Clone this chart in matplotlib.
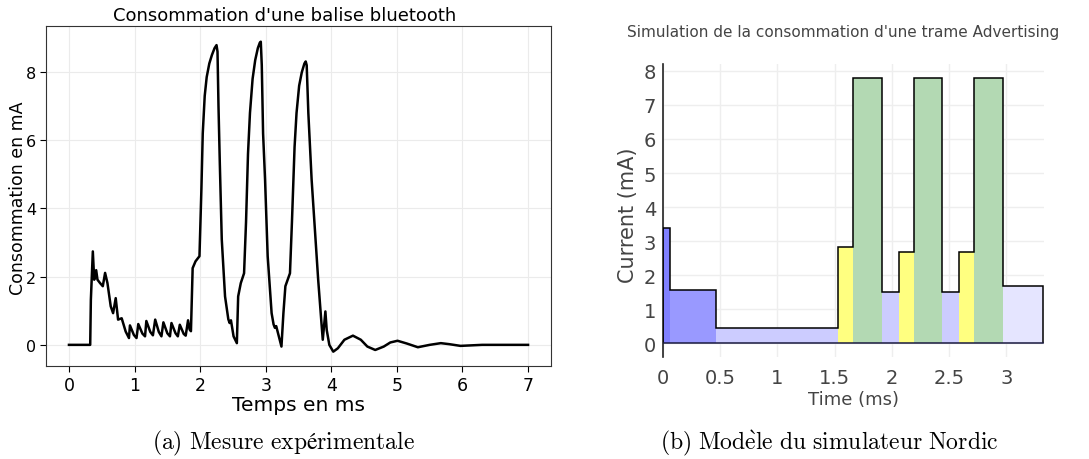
import matplotlib
matplotlib.use("Agg")
import matplotlib.pyplot as plt
import numpy as np

# ---- Left: measured consumption (time in ms, current in mA) ----
t_meas = [0.0, 0.324, 0.334, 0.364, 0.385, 0.415, 0.435, 0.475, 0.516, 0.551, 0.587,
          0.637, 0.673, 0.713, 0.749, 0.804, 0.865, 0.915, 0.93, 0.99, 1.03, 1.057,
          1.12, 1.16, 1.18, 1.24, 1.28, 1.315, 1.37, 1.41, 1.44, 1.50, 1.54, 1.563,
          1.625, 1.66, 1.69, 1.75, 1.78, 1.816, 1.84, 1.86, 1.886, 1.93, 1.99,
          2.02, 2.04, 2.07, 2.10, 2.14, 2.18, 2.22, 2.25, 2.265, 2.28, 2.30, 2.33,
          2.38, 2.43, 2.45, 2.47, 2.51, 2.56, 2.58, 2.62, 2.67, 2.70, 2.73, 2.76,
          2.80, 2.84, 2.88, 2.91, 2.925, 2.94, 2.96, 2.99, 3.03, 3.09, 3.12, 3.14,
          3.16, 3.24, 3.27, 3.30, 3.37, 3.40, 3.44, 3.47, 3.51, 3.55, 3.59, 3.61,
          3.625, 3.65, 3.70, 3.75, 3.80, 3.85, 3.87, 3.91, 3.93, 3.97, 4.03, 4.10,
          4.20, 4.33, 4.45, 4.55, 4.67, 4.80, 4.90, 5.01, 5.15, 5.32, 5.50, 5.67,
          5.80, 5.97, 6.30, 6.60, 7.0]
i_meas = [0.0, 0.0, 1.32, 2.74, 1.91, 2.19, 1.91, 1.81, 1.72, 2.11, 1.81,
          1.13, 0.93, 1.37, 0.74, 0.78, 0.39, 0.2, 0.57, 0.29, 0.2, 0.61,
          0.33, 0.25, 0.70, 0.38, 0.28, 0.74, 0.38, 0.25, 0.66, 0.34, 0.25, 0.64,
          0.34, 0.25, 0.59, 0.32, 0.27, 0.72, 0.45, 0.40, 2.25, 2.45, 2.6,
          4.6, 6.2, 7.3, 7.85, 8.25, 8.5, 8.7, 8.79, 8.6, 7.0, 5.34, 3.09,
          1.42, 0.75, 0.64, 0.72, 0.25, 0.05, 1.42, 1.81, 2.1, 3.6, 5.6, 6.8,
          7.8, 8.35, 8.7, 8.86, 8.89, 8.2, 6.2, 4.85, 2.6, 0.93, 0.6, 0.5,
          0.55, -0.05, 0.93, 1.72, 2.1, 3.6, 5.8, 6.8, 7.6, 7.99, 8.25, 8.31,
          8.2, 6.8, 4.85, 3.38, 1.91, 0.64, 0.15, 0.98, 0.44, 0.0, -0.2, -0.1,
          0.15, 0.27, 0.15, -0.05, -0.15, -0.05, 0.07, 0.12, 0.04, -0.07, 0.0, 0.05,
          0.02, -0.03, 0.0, 0.0, 0.0]

# ---- Right: Nordic simulator model ----
seg_edges = [0.0, 0.06, 0.46, 1.53, 1.66, 1.91, 2.06, 2.19, 2.44, 2.59, 2.72, 2.97, 3.32]
seg_current = [3.39, 1.56, 0.44, 2.84, 7.79, 1.50, 2.68, 7.79, 1.50, 2.68, 7.79, 1.69]
seg_colors = ['#8080ff', '#9999ff', '#ccccff', '#ffff80', '#b3d9b3', '#ccccff',
              '#ffff80', '#b3d9b3', '#ccccff', '#ffff80', '#b3d9b3', '#e5e5ff']
x_ticks_r = [0, 0.5, 1, 1.5, 2, 2.5, 3]
x_ticklabels_r = ['0', '0.5', '1', '1.5', '2', '2.5', '3']
y_ticks_r = [0, 1, 2, 3, 4, 5, 6, 7, 8]

W, H = 1089, 460
plt.rcParams['mathtext.fontset'] = 'cm'
fig = plt.figure(figsize=(W / 100, H / 100), dpi=100)

# Left axes
axL = fig.add_axes([46 / W, (H - 367) / H, (551 - 46) / W, (367 - 27) / H])
axL.plot(t_meas, i_meas, color='black', lw=1.8, solid_joinstyle='round')
axL.set_xlim(-0.35, 7.35)
axL.set_ylim(-0.62, 9.35)
axL.set_xticks(range(0, 8))
axL.set_yticks([0, 2, 4, 6, 8])
axL.grid(True, color='#ebebeb', lw=0.8)
axL.set_axisbelow(True)
axL.tick_params(axis='x', labelsize=12.5, length=4, pad=3)
axL.tick_params(axis='y', labelsize=11.5, length=4, pad=3)
for s in axL.spines.values():
    s.set_color('#333333')
    s.set_linewidth(0.8)
fig.text(18 / W, 1 - 198 / H, 'Consommation en mA', rotation=90,
         ha='center', va='center', fontsize=12.5)
fig.text(298 / W, 1 - 406 / H, 'Temps en ms', ha='center', va='center', fontsize=14.5)
fig.text(285 / W, 1 - 16 / H, "Consommation d'une balise bluetooth",
         ha='center', va='center', fontsize=13)

# Right axes
axR = fig.add_axes([663 / W, (H - 358) / H, (1044 - 663) / W, (358 - 65) / H])
widths = np.diff(seg_edges)
axR.bar(seg_edges[:-1], seg_current, width=widths, align='edge', color=seg_colors,
        edgecolor='none', zorder=2)
axR.stairs(seg_current, seg_edges, baseline=0, color='black', lw=1.1, zorder=3)
axR.plot([seg_edges[0], seg_edges[-1]], [0, 0], color='#1a1a40', lw=1.1, zorder=3)
axR.set_xlim(0, 3.33)
axR.set_ylim(-0.4, 8.2)
axR.set_xticks(x_ticks_r)
axR.set_xticklabels(x_ticklabels_r)
axR.set_yticks(y_ticks_r)
axR.grid(True, color='#eeeeee', lw=1)
axR.set_axisbelow(True)
for k in ['top', 'right', 'bottom']:
    axR.spines[k].set_visible(False)
axR.spines['left'].set_color('#222222')
axR.spines['left'].set_linewidth(1.2)
axR.tick_params(axis='both', length=0, labelsize=14, labelcolor='#444444')
axR.tick_params(axis='y', pad=5)
axR.tick_params(axis='x', pad=8)
fig.text(628 / W, 1 - 215 / H, 'Current (mA)', rotation=90, ha='center', va='center',
         fontsize=15, color='#444444')
axR.set_xlabel('Time (ms)', fontsize=13, color='#444444', labelpad=2)
fig.text(843 / W, 1 - 33 / H, "Simulation de la consommation d'une trame Advertising",
         ha='center', va='center', fontsize=11, color='#444444')

# Captions
fig.text(283 / W, 1 - 443 / H, r"$\mathrm{(a)\ Mesure\ expérimentale}$",
         ha='center', va='center', fontsize=17)
fig.text(829 / W, 1 - 443 / H, r"$\mathrm{(b)\ Mod\grave{e}le\ du\ simulateur\ Nordic}$",
         ha='center', va='center', fontsize=17)

fig.savefig('out.png', dpi=100)
